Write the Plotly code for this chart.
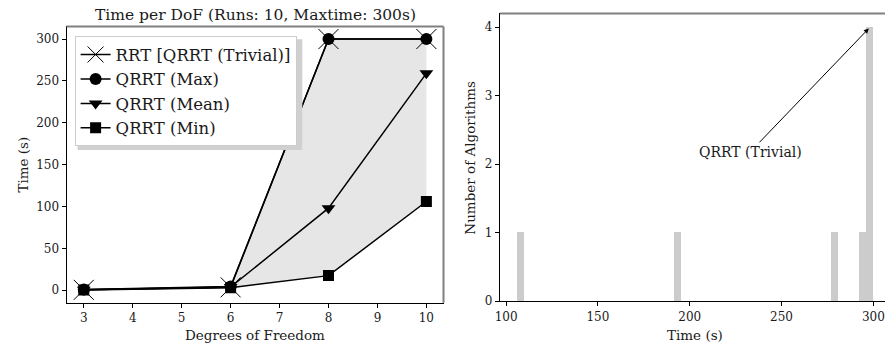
import numpy as np
import plotly.graph_objects as go

# ---------------- data ----------------
dof = [3, 6, 8, 10]
rrt_trivial = [0.5, 3.5, 300, 300]
qrrt_max = [0.8, 4.5, 300, 300]
qrrt_mean = [0.6, 3.8, 98, 259]
qrrt_min = [0.4, 3.0, 17.5, 106]

# solve times of the algorithms at the highest DoF (10)
times_at_max_dof = [106, 193, 278, 294, 300, 300, 300, 300]
n_bins = 50

title_text = "Time per DoF (Runs: 10, Maxtime: 300s)"
left_xlabel = "Degrees of Freedom"
left_ylabel = "Time (s)"
right_xlabel = "Time (s)"
right_ylabel = "Number of Algorithms"
annot_text = "QRRT (Trivial)"
annot_xy = (297.5, 3.98)
annot_text_xy = (233, 2.18)

W, H = 885, 351
FONT = "DejaVu Serif"
TXT = "#1a1a1a"

counts, edges = np.histogram(times_at_max_dof, bins=n_bins)
centers = (edges[:-1] + edges[1:]) / 2
widths = np.diff(edges)

fig = go.Figure()

# fill between min and max
fig.add_trace(go.Scatter(x=dof, y=qrrt_min, mode="lines", line=dict(width=0),
                         showlegend=False, hoverinfo="skip"))
fig.add_trace(go.Scatter(x=dof, y=qrrt_max, mode="lines", line=dict(width=0),
                         fill="tonexty", fillcolor="#e6e6e6",
                         showlegend=False, hoverinfo="skip"))

fig.add_trace(go.Scatter(x=dof, y=rrt_trivial, mode="lines+markers",
                         name="RRT [QRRT (Trivial)]",
                         line=dict(color="black", width=1.5),
                         marker=dict(symbol="x-thin", size=20, color="black",
                                     line=dict(width=1, color="black"))))
fig.add_trace(go.Scatter(x=dof, y=qrrt_max, mode="lines+markers",
                         name="QRRT (Max)",
                         line=dict(color="black", width=1.5),
                         marker=dict(symbol="circle", size=12, color="black")))
fig.add_trace(go.Scatter(x=dof, y=qrrt_mean, mode="lines+markers",
                         name="QRRT (Mean)",
                         line=dict(color="black", width=1.5),
                         marker=dict(symbol="triangle-down", size=12, color="black")))
fig.add_trace(go.Scatter(x=dof, y=qrrt_min, mode="lines+markers",
                         name="QRRT (Min)",
                         line=dict(color="black", width=1.5),
                         marker=dict(symbol="square", size=11, color="black")))

fig.add_trace(go.Bar(x=centers, y=counts, width=widths, xaxis="x2", yaxis="y2",
                     marker=dict(color="#cccccc", line=dict(width=0)),
                     showlegend=False, hoverinfo="skip"))

def px_x(p):
    return p / W

def px_y(p):
    return 1 - p / H

axis_common = dict(showgrid=False, zeroline=False, showline=True, linecolor="black",
                   linewidth=1.2, ticks="outside", ticklen=4, tickcolor="black",
                   tickwidth=1, tickfont=dict(family=FONT, size=12, color=TXT))

fig.update_layout(
    width=W, height=H,
    margin=dict(l=0, r=0, t=0, b=0),
    paper_bgcolor="white", plot_bgcolor="white",
    font=dict(family=FONT, color=TXT),
    bargap=0,
    xaxis=dict(domain=[px_x(62), px_x(441)], range=[2.65, 10.35],
               tickvals=[3, 4, 5, 6, 7, 8, 9, 10], anchor="y", **axis_common),
    yaxis=dict(domain=[px_y(309), px_y(27)], range=[-15, 315],
               tickvals=[0, 50, 100, 150, 200, 250, 300], anchor="x", **axis_common),
    xaxis2=dict(domain=[px_x(497.7), 1.0], range=[96.6, 306.34],
                tickvals=[100, 150, 200, 250, 300], anchor="y2", **axis_common),
    yaxis2=dict(domain=[px_y(307.3), px_y(13.7)], range=[0, 4.2],
                tickvals=[0, 1, 2, 3, 4], anchor="x2", **axis_common),
    legend=dict(x=px_x(70), y=px_y(37), xanchor="left", yanchor="top",
                bgcolor="white", bordercolor="#cccccc", borderwidth=1,
                font=dict(family=FONT, size=16.5, color=TXT),
                traceorder="normal", tracegroupgap=0, itemwidth=30),
)

# gray top/right spines
spine = dict(color="#808080", width=2)
fig.add_shape(type="line", xref="x domain", yref="y domain", x0=0, x1=1, y0=1, y1=1, line=spine)
fig.add_shape(type="line", xref="x domain", yref="y domain", x0=1, x1=1, y0=0, y1=1, line=spine)
fig.add_shape(type="line", xref="x2 domain", yref="y2 domain", x0=0, x1=1, y0=1, y1=1, line=spine)

# legend drop shadow
fig.add_shape(type="rect", xref="paper", yref="paper",
              x0=px_x(73), x1=px_x(299), y0=px_y(153), y1=px_y(40),
              fillcolor="#d0d0d0", line=dict(width=0), layer="above")

texts = [
    (title_text, 251.5, 15, 0, 15.5),
    (left_xlabel, 251.5, 342, 0, 13.5),
    (left_ylabel, 18, 168, -90, 13.5),
    (right_xlabel, 694, 342, 0, 13.5),
    (right_ylabel, 468, 160.5, -90, 13.5),
]
for t, x, y, ang, sz in texts:
    fig.add_annotation(text=t, x=px_x(x), y=px_y(y), xref="paper", yref="paper",
                       showarrow=False, textangle=ang, xanchor="center", yanchor="middle",
                       font=dict(family=FONT, size=sz, color=TXT))

fig.add_annotation(text=annot_text, x=annot_xy[0], y=annot_xy[1], xref="x2", yref="y2",
                   ax=annot_text_xy[0], ay=annot_text_xy[1], axref="x2", ayref="y2",
                   showarrow=True, arrowhead=2, arrowsize=1, arrowwidth=1,
                   arrowcolor="black", standoff=0,
                   font=dict(family=FONT, size=14, color=TXT))

fig.write_html("out.html")
